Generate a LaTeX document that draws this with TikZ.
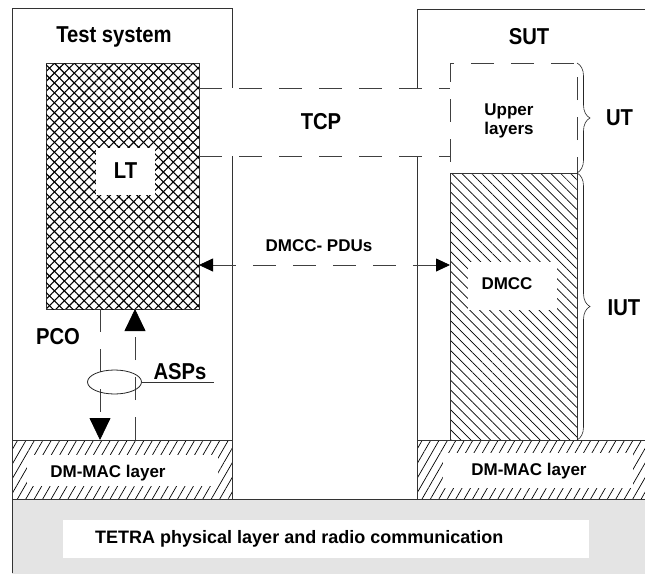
\documentclass[tikz,border=0pt]{standalone}
\usepackage{fontspec}
\setmainfont{Liberation Sans}
\newfontfamily\bigfam[FakeStretch=0.88]{Liberation Sans}
\usetikzlibrary{patterns.meta,decorations.pathreplacing,arrows.meta,shapes.geometric}
\definecolor{bg}{HTML}{E4E4E4}
\tikzset{ptip/.tip={Triangle[length=14pt,width=13pt,color=black]},
         qtip/.tip={Triangle[length=22pt,width=21pt,color=black]}}
\begin{document}
\begin{tikzpicture}[x=1pt,y=-1pt,
  frame/.style={draw=black!80,line width=0.8pt},
  dsh/.style={draw=black!75,line width=0.8pt,dash pattern=on 23pt off 17pt},
  big/.style={font=\bigfam\bfseries\fontsize{23}{25}\selectfont,inner sep=0pt},
  small/.style={font=\bfseries\fontsize{17}{20}\selectfont,inner sep=0pt,align=center},
  blank/.style={rectangle,fill=white,draw=none,inner sep=0pt,outer sep=0pt},
  box/.style={rectangle,inner sep=0pt,outer sep=0pt},
  xhatch/.style={pattern={Lines[angle=45,distance=7pt,line width=1.1pt]},
                 postaction={pattern={Lines[angle=-45,distance=7pt,line width=1.1pt]}}},
  bhatch/.style={pattern={Lines[angle=-45,distance=7pt,line width=0.7pt]}},
  fhatch/.style={pattern={Lines[angle=60,distance=7.3pt,line width=0.7pt]}},
  brc/.style={draw=black!85,line width=0.6pt,decorate,decoration={brace,amplitude=13pt}}
]
\useasboundingbox (0,0) rectangle (645,573);

% bottom gray area
\fill[bg] (12,499) rectangle (650,580);
\draw[frame] (12,499) -- (650,499);
\node[blank,minimum width=526pt,minimum height=38pt] (phyl) at (326,539) {};
\node[small,font=\bfseries\fontsize{18}{20}\selectfont,anchor=west] (phyt) at (95,539) {TETRA physical layer and radio communication};

% frames
\draw[frame] (12,573) -- (12,8) -- (232,8) -- (232,88);
\draw[frame] (232,156) -- (232,440);
\draw[frame] (417,88) -- (417,9) -- (650,9);
\draw[frame] (417,156) -- (417,440);

% DM-MAC layers
\node[box,frame,fhatch,minimum width=220pt,minimum height=59pt] (macL) at (122,469.5) {};
\node[blank,minimum width=191pt,minimum height=31pt] (macLw) at (122.5,470.5) {};
\node[small] (macLt) at (108,473) {DM-MAC layer};
\node[box,frame,fhatch,minimum width=233pt,minimum height=59pt] (macR) at (533.5,469.5) {};
\node[blank,minimum width=190pt,minimum height=35pt] (macRw) at (538,470.5) {};
\node[small] (macRt) at (529,471) {DM-MAC layer};

% LT
\node[box,frame,line width=1pt,xhatch,minimum width=153pt,minimum height=246pt] (lt) at (122.5,186) {};
\node[blank,minimum width=59pt,minimum height=47pt] (ltw) at (125.5,171.5) {};
\node[big] (ltt) at (125.5,171) {LT};

% Upper layers and DMCC
\node[box,dsh,minimum width=127pt,minimum height=110pt] (upper) at (513.5,118) {};
\node[small] (uppert) at (509,121) {Upper\\[-1pt]layers};
\node[box,frame,bhatch,minimum width=127pt,minimum height=267pt] (dmcc) at (513.5,306.5) {};
\node[blank,minimum width=89pt,minimum height=48pt] (dmccw) at (512.5,286) {};
\node[small] (dmcct) at (507,284) {DMCC};

% TCP
\draw[dsh] ([yshift=-25pt]lt.north east) -- ([yshift=-25pt]upper.north west);
\draw[dsh] ([yshift=-93pt]lt.north east) -- ([yshift=-93pt]upper.north west);
\node[big] (tcp) at (321,122) {TCP};

% DMCC-PDUs
\coordinate (pdu) at (300,265);
\draw[dsh,ptip-ptip] (lt.east |- pdu) -- (dmcc.west |- pdu);
\node[small] (pdut) at (319,246) {DMCC- PDUs};

% braces
\draw[brc] (upper.north east) -- (upper.south east);
\draw[brc] (dmcc.north east) -- (dmcc.south east);
\node[big] (ut) at (619.5,118) {UT};
\node[big] (iut) at (624,308) {IUT};

% titles
\node[big] (ts) at (114,37) {Test system};
\node[big] (sut) at (529,37) {SUT};

% PCO / ASPs
\draw[dsh,-qtip] ([xshift=-22.5pt]lt.south) -- ([xshift=-22pt]macL.north);
\draw[dsh,-qtip] ([xshift=13pt]macL.north) -- ([xshift=12.5pt]lt.south);
\node[draw=black!85,line width=0.8pt,ellipse,minimum width=54pt,minimum height=24pt,inner sep=0pt] (asp) at (114.5,382) {};
\coordinate (aspend) at (214,383);
\draw[frame,line width=0.7pt] (asp.east) -- (asp.east -| aspend);
\node[big] (aspt) at (180,372) {ASPs};
\node[big] (pco) at (58,337) {PCO};
\end{tikzpicture}
\end{document}
